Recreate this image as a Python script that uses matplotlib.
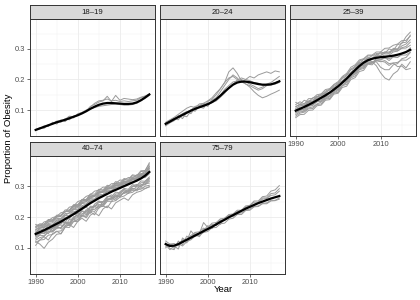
import matplotlib
matplotlib.use("Agg")
import matplotlib.pyplot as plt
import numpy as np

plt.rcParams['font.family'] = ['Liberation Sans', 'DejaVu Sans']

years = list(range(1990, 2018))
groups = ["18–19", "20–24", "25–39", "40–74", "75–79"]

g1819 = [
    [.036,.040,.044,.050,.056,.062,.060,.072,.068,.080,.082,.090,.098,.110,.122,.130,.132,.136,.130,.132,.128,.130,.128,.130,.132,.140,.145,.152],
    [.034,.038,.048,.046,.060,.054,.068,.062,.078,.074,.088,.092,.096,.112,.118,.126,.130,.145,.128,.148,.132,.138,.136,.134,.136,.142,.146,.152],
    [.035,.042,.040,.052,.054,.064,.065,.070,.080,.078,.085,.092,.100,.104,.108,.112,.114,.116,.118,.120,.118,.116,.116,.118,.122,.130,.138,.148],
]
g2024 = [
    [.050,.062,.066,.082,.072,.092,.100,.096,.114,.118,.112,.132,.140,.160,.180,.200,.215,.205,.190,.200,.210,.205,.215,.220,.225,.220,.228,.225],
    [.055,.066,.072,.068,.088,.095,.088,.108,.110,.106,.128,.135,.150,.170,.190,.225,.238,.220,.195,.185,.180,.172,.165,.170,.180,.185,.190,.195],
    [.048,.058,.065,.076,.082,.078,.096,.102,.110,.112,.122,.128,.140,.148,.168,.180,.192,.195,.200,.192,.185,.178,.170,.175,.185,.190,.200,.210],
    [.060,.068,.076,.086,.096,.106,.112,.108,.120,.122,.130,.140,.156,.170,.190,.205,.210,.200,.192,.186,.175,.160,.148,.140,.145,.152,.158,.165],
    [.052,.064,.070,.080,.088,.094,.100,.112,.115,.122,.118,.124,.130,.142,.155,.172,.185,.198,.205,.200,.196,.190,.188,.182,.180,.182,.185,.190],
]
g2539 = [
    [.125,.118,.132,.126,.140,.144,.152,.156,.168,.172,.188,.195,.214,.222,.244,.250,.266,.268,.278,.276,.290,.286,.300,.296,.314,.318,.340,.355],
    [.110,.120,.114,.128,.128,.143,.146,.158,.165,.178,.185,.204,.212,.232,.238,.256,.258,.272,.268,.282,.278,.290,.286,.302,.300,.320,.322,.345],
    [.090,.098,.103,.112,.115,.128,.128,.144,.147,.164,.168,.190,.194,.216,.224,.244,.246,.258,.258,.245,.222,.205,.198,.218,.228,.250,.238,.258],
    [.100,.110,.110,.124,.122,.138,.142,.155,.156,.174,.176,.196,.202,.224,.232,.252,.254,.268,.258,.258,.240,.232,.232,.248,.252,.268,.272,.288],
    [.080,.090,.093,.104,.105,.118,.120,.136,.138,.155,.158,.180,.184,.205,.212,.232,.236,.254,.254,.268,.266,.272,.262,.274,.272,.284,.288,.304],
    [.075,.085,.086,.099,.100,.114,.116,.132,.134,.152,.155,.174,.178,.200,.206,.226,.230,.250,.248,.262,.258,.262,.252,.254,.242,.244,.232,.236],
    [.118,.127,.120,.137,.138,.150,.153,.167,.170,.184,.193,.210,.220,.240,.248,.264,.268,.280,.280,.290,.290,.302,.303,.312,.316,.327,.328,.342],
    [.095,.104,.098,.114,.118,.130,.133,.144,.153,.164,.173,.192,.203,.220,.230,.247,.253,.264,.266,.274,.274,.280,.280,.290,.293,.302,.303,.312],
    [.105,.114,.116,.124,.128,.140,.140,.154,.156,.170,.176,.190,.198,.216,.224,.240,.248,.262,.266,.277,.278,.286,.286,.294,.294,.304,.308,.322],
    [.085,.094,.096,.107,.110,.120,.126,.137,.143,.157,.163,.180,.190,.208,.218,.234,.240,.252,.253,.262,.260,.257,.246,.254,.256,.264,.263,.272],
    [.112,.117,.120,.130,.133,.144,.148,.162,.168,.182,.190,.207,.216,.234,.243,.260,.266,.277,.278,.285,.284,.290,.290,.298,.298,.310,.316,.330],
    [.092,.100,.103,.114,.118,.127,.130,.140,.146,.160,.166,.182,.193,.212,.220,.237,.243,.254,.256,.264,.264,.270,.268,.274,.273,.280,.280,.290],
]
g4074 = [
    [.150,.162,.158,.174,.175,.190,.188,.205,.204,.224,.224,.244,.242,.260,.258,.275,.272,.288,.286,.302,.298,.314,.310,.326,.322,.340,.338,.356],
    [.160,.168,.170,.184,.185,.200,.202,.218,.218,.238,.236,.256,.254,.272,.268,.286,.282,.298,.294,.310,.306,.322,.318,.334,.330,.348,.346,.364],
    [.140,.148,.147,.162,.162,.176,.177,.195,.194,.212,.211,.230,.231,.250,.251,.267,.266,.283,.281,.297,.294,.309,.306,.321,.318,.335,.334,.348],
    [.130,.141,.139,.154,.152,.166,.166,.183,.182,.200,.200,.219,.218,.235,.234,.251,.250,.267,.266,.281,.278,.293,.290,.305,.302,.317,.316,.330],
    [.170,.178,.177,.192,.191,.206,.206,.223,.222,.240,.240,.257,.257,.275,.274,.290,.288,.303,.300,.315,.311,.325,.322,.337,.334,.350,.351,.372],
    [.120,.112,.098,.118,.128,.144,.146,.167,.166,.185,.186,.203,.202,.220,.218,.235,.234,.251,.251,.267,.266,.281,.278,.293,.290,.305,.304,.316],
    [.155,.148,.166,.174,.165,.184,.192,.182,.202,.212,.202,.224,.232,.220,.242,.252,.240,.264,.272,.260,.282,.290,.282,.300,.306,.298,.316,.326],
    [.108,.126,.136,.125,.146,.154,.145,.167,.176,.166,.186,.196,.186,.206,.214,.204,.226,.236,.226,.246,.254,.262,.254,.272,.280,.284,.292,.298],
    [.176,.170,.184,.188,.198,.202,.214,.217,.232,.235,.250,.255,.267,.272,.284,.287,.297,.297,.308,.309,.320,.319,.328,.327,.337,.337,.350,.376],
    [.145,.154,.146,.162,.166,.177,.180,.197,.200,.214,.220,.234,.238,.252,.256,.268,.272,.282,.284,.294,.294,.304,.306,.314,.316,.327,.328,.340],
    [.135,.143,.156,.160,.156,.172,.162,.182,.172,.194,.185,.207,.197,.217,.207,.230,.236,.230,.250,.253,.264,.268,.277,.280,.290,.290,.300,.303],
    [.165,.172,.173,.184,.188,.200,.203,.217,.223,.234,.240,.252,.256,.267,.270,.282,.286,.297,.298,.308,.308,.316,.316,.324,.326,.336,.340,.357],
    [.125,.133,.137,.151,.152,.163,.165,.178,.179,.195,.197,.211,.215,.231,.233,.247,.247,.261,.261,.275,.275,.287,.287,.299,.299,.311,.312,.324],
    [.150,.164,.166,.177,.170,.190,.194,.206,.213,.226,.230,.247,.250,.262,.266,.277,.280,.290,.292,.302,.303,.314,.314,.322,.323,.332,.334,.347],
    [.142,.150,.153,.146,.164,.168,.180,.184,.176,.200,.206,.220,.208,.230,.234,.228,.250,.254,.264,.254,.274,.276,.286,.288,.298,.298,.308,.310],
    [.158,.165,.167,.179,.181,.195,.195,.211,.213,.229,.233,.247,.249,.265,.267,.279,.281,.293,.293,.303,.303,.313,.313,.325,.327,.341,.343,.360],
    [.118,.125,.127,.141,.143,.153,.155,.171,.173,.187,.192,.205,.207,.223,.225,.239,.241,.255,.257,.269,.269,.279,.277,.287,.285,.295,.293,.298],
    [.168,.175,.175,.189,.189,.203,.205,.217,.219,.233,.235,.251,.253,.267,.269,.281,.281,.293,.293,.305,.305,.315,.315,.327,.327,.339,.342,.366],
    [.138,.147,.148,.158,.163,.172,.174,.170,.192,.194,.212,.202,.224,.212,.237,.240,.236,.257,.260,.272,.264,.282,.284,.294,.288,.304,.308,.320],
    [.148,.158,.157,.171,.172,.183,.185,.199,.201,.217,.221,.237,.241,.255,.257,.271,.272,.285,.285,.297,.297,.309,.309,.321,.321,.333,.335,.350],
]
g7579 = [
    [.115,.098,.094,.122,.110,.138,.128,.148,.146,.160,.162,.176,.172,.188,.190,.204,.202,.218,.220,.232,.236,.248,.248,.262,.262,.276,.278,.292],
    [.122,.112,.106,.096,.132,.122,.155,.138,.146,.182,.166,.180,.182,.194,.196,.208,.210,.222,.222,.236,.238,.252,.252,.266,.268,.284,.288,.302],
    [.105,.110,.098,.114,.106,.120,.126,.138,.140,.150,.153,.165,.166,.178,.180,.193,.196,.208,.208,.221,.222,.233,.234,.243,.243,.252,.253,.258],
    [.110,.094,.106,.114,.124,.116,.136,.144,.136,.156,.172,.162,.182,.176,.196,.206,.208,.218,.220,.232,.232,.242,.246,.258,.260,.270,.272,.284],
    [.100,.112,.114,.106,.126,.128,.140,.150,.152,.164,.158,.172,.178,.190,.192,.200,.202,.212,.213,.222,.226,.234,.236,.244,.246,.254,.254,.262],
]

smooth1819 = [.035,.040,.045,.050,.055,.060,.064,.068,.073,.078,.083,.089,.096,.104,.111,.117,.121,.123,.123,.122,.121,.120,.120,.121,.125,.132,.141,.151]
smooth2024 = [.055,.062,.070,.077,.084,.091,.098,.104,.109,.114,.119,.126,.135,.147,.160,.172,.183,.190,.193,.193,.191,.188,.185,.183,.183,.184,.188,.194]
smooth2539 = [.098,.104,.110,.117,.124,.132,.140,.148,.157,.167,.178,.190,.203,.217,.231,.244,.255,.263,.268,.271,.273,.274,.276,.278,.281,.285,.290,.297]
smooth4074 = [.145,.151,.157,.164,.171,.178,.185,.193,.201,.209,.218,.227,.236,.245,.253,.261,.268,.275,.282,.288,.294,.300,.306,.312,.318,.325,.334,.346]
smooth7579 = [.112,.106,.107,.112,.119,.126,.133,.140,.147,.154,.161,.168,.176,.184,.191,.199,.206,.213,.220,.227,.233,.239,.245,.250,.255,.260,.264,.268]

series = [g1819, g2024, g2539, g4074, g7579]
smooths = [smooth1819, smooth2024, smooth2539, smooth4074, smooth7579]

xticks = [1990, 2000, 2010]
xtick_labels = ["1990", "2000", "2010"]
yticks = [0.1, 0.2, 0.3]
ytick_labels = ["0.1", "0.2", "0.3"]

W, H = 420, 300
fig = plt.figure(figsize=(4.2, 3.0), dpi=100)

boxes = [(30, 19, 155, 136), (160, 19, 285, 136), (290, 19, 416, 136),
         (30, 156, 155, 274), (160, 156, 285, 274)]
strip_h = 14
show_y = [True, False, False, True, False]
show_x = [False, False, True, True, True]

grey20 = "#333333"
for i, (l, t, r, b) in enumerate(boxes):
    ax = fig.add_axes([l / W, 1 - b / H, (r - l) / W, (b - t) / H])
    ax.set_xlim(1988.65, 2018.35)
    ax.set_ylim(0.015, 0.398)
    ax.set_xticks(xticks)
    ax.set_xticks([1995, 2005, 2015], minor=True)
    ax.set_yticks(yticks)
    ax.set_yticks([0.05, 0.15, 0.25, 0.35], minor=True)
    ax.grid(which="major", color="#EBEBEB", lw=0.6, zorder=0)
    ax.grid(which="minor", color="#F2F2F2", lw=0.35, zorder=0)
    ax.set_axisbelow(True)
    for s in ax.spines.values():
        s.set_color(grey20)
        s.set_linewidth(0.7)
    ax.tick_params(which="minor", length=0)
    ax.tick_params(which="major", length=2, width=0.5, color=grey20,
                   labelsize=5.4, labelcolor="#4D4D4D", pad=1.5)
    if show_y[i]:
        ax.set_yticklabels(ytick_labels)
    else:
        ax.tick_params(axis="y", length=0, labelleft=False)
    if show_x[i]:
        ax.set_xticklabels(xtick_labels)
    else:
        ax.tick_params(axis="x", length=0, labelbottom=False)
    for line in series[i]:
        ax.plot(years, line, color="#9A9A9A", lw=0.7, zorder=2)
    ax.plot(years, smooths[i], color="black", lw=1.6, zorder=3)

    sax = fig.add_axes([l / W, 1 - t / H, (r - l) / W, strip_h / H])
    sax.set_facecolor("#D9D9D9")
    sax.set_xticks([]); sax.set_yticks([])
    for s in sax.spines.values():
        s.set_color(grey20)
        s.set_linewidth(0.7)
    sax.text(0.5, 0.5, groups[i], ha="center", va="center", fontsize=5.6,
             color="#1A1A1A", transform=sax.transAxes)

fig.text(223 / W, 1 - 290 / H, "Year", ha="center", va="center", fontsize=6.8, color="black")
fig.text(8.5 / W, 1 - 138 / H, "Proportion of Obesity", ha="center", va="center",
         rotation=90, fontsize=6.8, color="black")

fig.savefig("out.png", dpi=100)
